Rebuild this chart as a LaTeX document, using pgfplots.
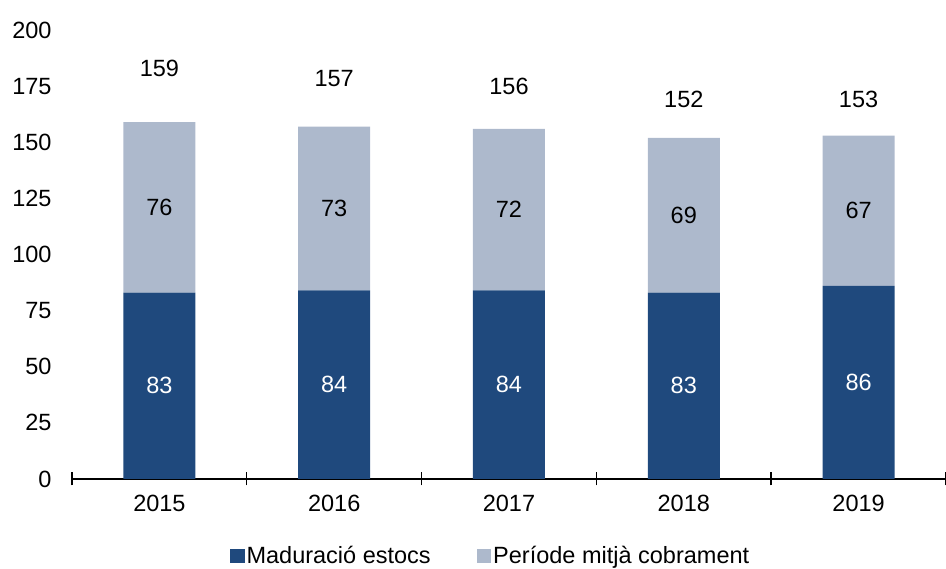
\documentclass[border=0pt]{standalone}
\usepackage{fontspec}
\setmainfont{Liberation Sans}
\usepackage{pgfplots}
\usepackage{pgfplotstable}
\pgfplotsset{compat=1.18}
\definecolor{darkb}{RGB}{31,73,125}
\definecolor{lightb}{RGB}{173,185,204}
\newcommand{\fs}{\fontsize{23.5}{28}\selectfont}

\pgfplotstableread{
x dark light
0 83 76
1 84 73
2 84 72
3 83 69
4 86 67
}\bars
\pgfplotstableread{
x y v
0 41.5 83
1 42 84
2 42 84
3 41.5 83
4 43 86
}\darklab
\pgfplotstableread{
x y v
0 121 76
1 120.5 73
2 120 72
3 117.5 69
4 119.5 67
}\lightlab
\pgfplotstableread{
x y v
0 183 159
1 178.5 157
2 175 156
3 169 152
4 169 153
}\totlab

\pgfplotsset{
  common/.style={
    at={(0,0)}, anchor=south west,
    scale only axis, width=874pt, height=449pt,
    xmin=-0.5, xmax=4.5, ymin=0, ymax=200,
    clip=false,
  }
}

\begin{document}
\begin{tikzpicture}
\useasboundingbox (-72pt,-90pt) rectangle (874pt,479pt);
\begin{axis}[common,
  ybar stacked, bar width=72pt,
  axis x line*=bottom, axis y line*=left,
  y axis line style={draw=none},
  x axis line style={line width=1.6pt, -},
  ytick={0,25,...,200}, ytick style={draw=none},
  yticklabel style={font=\fs, anchor=east, xshift=-17pt},
  xtick={0,1,2,3,4}, xticklabels={2015,2016,2017,2018,2019},
  major x tick style={draw=none},
  minor xtick={-0.5,0.5,1.5,2.5,3.5,4.5},
  minor x tick style={black, line width=1.4pt},
  minor tick length=13pt, xtick align=center,
  xticklabel style={font=\fs, yshift=-10pt},
  /pgf/number format/assume math mode=true,
  legend style={at={(0.479,-0.171)}, anchor=center, draw=none, font=\fs,
    legend columns=2, /tikz/every even column/.append style={column sep=44pt},
    inner sep=0pt},
  legend image code/.code={\fill[#1] (0pt,-7.5pt) rectangle (14.5pt,7pt);},
]
\addplot[fill=darkb, draw=none] table[x=x, y=dark] {\bars};
\addlegendentry{Maduració estocs}
\addplot[fill=lightb, draw=none] table[x=x, y=light] {\bars};
\addlegendentry{Període mitjà cobrament}
\end{axis}
\begin{axis}[common, hide axis]
\addplot[only marks, mark=none, nodes near coords, point meta=explicit symbolic,
  nodes near coords style={font=\fs, text=white, anchor=center}]
  table[x=x, y=y, meta=v] {\darklab};
\addplot[only marks, mark=none, nodes near coords, point meta=explicit symbolic,
  nodes near coords style={font=\fs, text=black, anchor=center}]
  table[x=x, y=y, meta=v] {\lightlab};
\addplot[only marks, mark=none, nodes near coords, point meta=explicit symbolic,
  nodes near coords style={font=\fs, text=black, anchor=center}]
  table[x=x, y=y, meta=v] {\totlab};
\end{axis}
\end{tikzpicture}
\end{document}
